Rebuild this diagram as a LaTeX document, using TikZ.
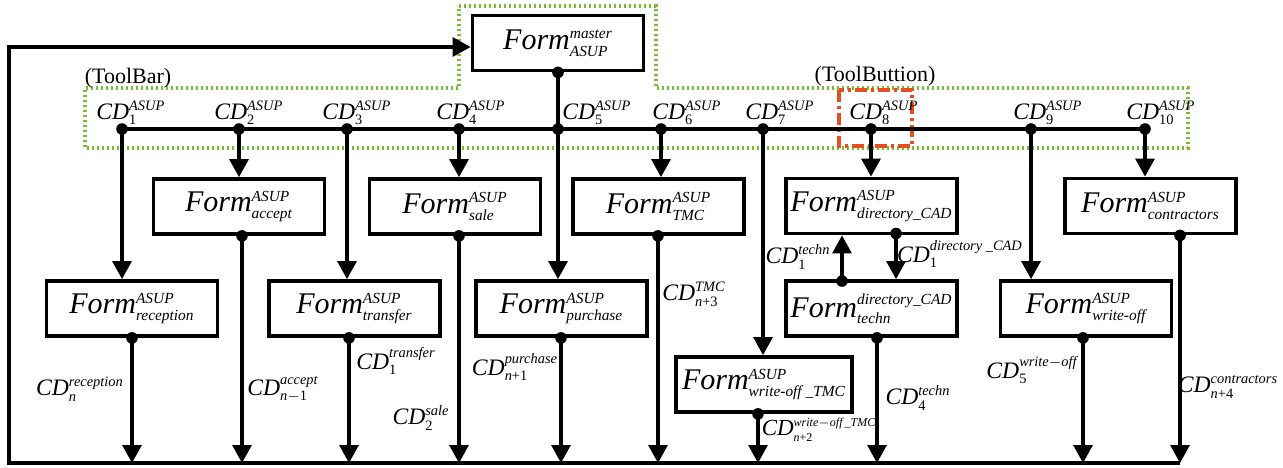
\documentclass[tikz,border=0pt]{standalone}
\usepackage{amsmath}
\usepackage{fontspec}
\setmainfont{Liberation Serif}
\usetikzlibrary{arrows.meta,calc}
\DeclareMathSizes{15}{15}{7.7}{6}
\DeclareMathSizes{11.8}{11.8}{7.2}{5}
\DeclareMathSizes{11.5}{11.5}{6}{5}
\definecolor{tbgreen}{RGB}{118,190,48}
\definecolor{tbred}{RGB}{228,78,32}
\newcommand\fm[2]{\textit{Form}$^{\text{\itshape #1}}_{\text{\itshape #2}}$}
\newcommand\cdl[2]{\textit{CD}$^{\text{\itshape #1}}_{\text{\itshape #2}}$}
\tikzset{
  box/.style={draw, line width=1.9pt, minimum width=85.5pt, minimum height=27.5pt, inner sep=0pt, font=\fontsize{15}{17}\selectfont},
  lbl/.style={inner sep=0pt, font=\fontsize{11.8}{13}\selectfont},
  lblsmall/.style={inner sep=0pt, font=\fontsize{11.5}{13}\selectfont},
  plain/.style={inner sep=0pt, font=\fontsize{11}{13}\selectfont},
  conn/.style={line width=1.6pt},
  arr/.style={conn, -{Triangle[width=9.5pt,length=9pt]}},
  dotted green/.style={draw=tbgreen, line width=1.6pt, dash pattern=on 1.2pt off 1.3pt},
  redbox/.style={draw=tbred, line width=1.6pt, dash pattern=on 6pt off 2pt on 1.5pt off 2pt}
}
\newcommand\jdot[1]{\fill (#1) circle[radius=2.9pt];}
\begin{document}
\begin{tikzpicture}[x=0.5pt,y=-0.5pt]
\useasboundingbox (0,0) rectangle (1283,467);

% toolbar outline
\draw[dotted green] (459,6) -- (656,6) -- (656,88) -- (1188,88) -- (1188,148) -- (85,148) -- (85,88) -- (459,88) -- cycle;
\node[plain] (tbar) at (128,78) {(ToolBar)};
\node[plain] (tbtn) at (875,76) {(ToolButtion)};
\draw[redbox] (839,90) rectangle (912,146);

% boxes
\node[box] (master) at (558,43) {\fm{master}{ASUP}};
\node[box] (accept) at (239,206.5) {\fm{ASUP}{accept}};
\node[box] (sale) at (455,206.5) {\fm{ASUP}{sale}};
\node[box] (tmc) at (658.5,206.5) {\fm{ASUP}{TMC}};
\node[box] (dircad) at (871.5,206) {\fm{ASUP}{directory\_CAD}};
\node[box] (contr) at (1150.5,206) {\fm{ASUP}{contractors}};
\node[box] (recep) at (132,308.5) {\fm{ASUP}{reception}};
\node[box] (transf) at (354.5,308.5) {\fm{ASUP}{transfer}};
\node[box] (purch) at (561.5,308.5) {\fm{ASUP}{purchase}};
\node[box] (techn) at (871.5,308.5) {\fm{directory\_CAD}{techn}};
\node[box] (wroff) at (1086,308.5) {\fm{ASUP}{write-off}};
\node[box, minimum width=88pt] (wrtmc) at (764,384.5) {\fm{ASUP}{write-off \_TMC}};

% bus coordinates
\coordinate (cd1) at (122,129);
\coordinate (cd2) at (239,129);
\coordinate (cd3) at (347,129);
\coordinate (cd4) at (459,129);
\coordinate (cd5) at (558,129);
\coordinate (cd6) at (661,129);
\coordinate (cd7) at (763,129);
\coordinate (cd8) at (871,129);
\coordinate (cd9) at (1031,129);
\coordinate (cd10) at (1145,129);
\draw[conn] (cd1) -- (cd10);

% bus labels
\node[lbl, anchor=base west] (l1) at (96,119) {\cdl{ASUP}{\textup{1}}};
\node[lbl, anchor=base west] (l2) at (214,119) {\cdl{ASUP}{\textup{2}}};
\node[lbl, anchor=base west] (l3) at (322,119) {\cdl{ASUP}{\textup{3}}};
\node[lbl, anchor=base west] (l4) at (436,119) {\cdl{ASUP}{\textup{4}}};
\node[lbl, anchor=base west] (l5) at (562,119) {\cdl{ASUP}{\textup{5}}};
\node[lbl, anchor=base west] (l6) at (652,119) {\cdl{ASUP}{\textup{6}}};
\node[lbl, anchor=base west] (l7) at (745,119) {\cdl{ASUP}{\textup{7}}};
\node[lbl, anchor=base west] (l8) at (849,119) {\cdl{ASUP}{\textup{8}}};
\node[lbl, anchor=base west] (l9) at (1013,119) {\cdl{ASUP}{\textup{9}}};
\node[lbl, anchor=base west] (l10) at (1126,119) {\cdl{ASUP}{\textup{10}}};

% bus to forms
\draw[conn] (master.south) -- (cd5);
\draw[arr] (cd5) -- (cd5 |- purch.north);
\draw[arr] (cd1) -- (cd1 |- recep.north);
\draw[arr] (cd2) -- (cd2 |- accept.north);
\draw[arr] (cd3) -- (cd3 |- transf.north);
\draw[arr] (cd4) -- (cd4 |- sale.north);
\draw[arr] (cd6) -- (cd6 |- tmc.north);
\draw[arr] (cd7) -- (cd7 |- wrtmc.north);
\draw[arr] (cd8) -- (cd8 |- dircad.north);
\draw[arr] (cd9) -- (cd9 |- wroff.north);
\draw[arr] (cd10) -- (cd10 |- contr.north);
\foreach \c in {cd1,cd2,cd3,cd4,cd5,cd6,cd7,cd8,cd9,cd10} {\jdot{\c}}
\jdot{master.south}

% directory_CAD <-> techn
\coordinate (dn) at (896,233.5);
\coordinate (up) at (842,281);
\draw[arr] (dn) -- (dn |- techn.north);
\draw[arr] (up) -- (up |- dircad.south);
\jdot{dn}
\jdot{up}
\node[lbl] (lt1) at (798,257) {\cdl{techn}{\textup{1}}};
\node[lbl] (ld1) at (960,254) {\cdl{directory \_CAD}{\textup{1}}};

% bottom collectors
\coordinate (bRec) at (132,463);
\coordinate (bAcc) at (242,463);
\coordinate (bTra) at (349,463);
\coordinate (bSal) at (459,463);
\coordinate (bPur) at (561,463);
\coordinate (bTmc) at (658,463);
\coordinate (bWtm) at (758,463);
\coordinate (bTec) at (877,463);
\coordinate (bWro) at (1083,463);
\coordinate (bCon) at (1180,463);
\draw[arr] (recep.south -| bRec) -- (bRec);
\draw[arr] (accept.south -| bAcc) -- (bAcc);
\draw[arr] (transf.south -| bTra) -- (bTra);
\draw[arr] (sale.south -| bSal) -- (bSal);
\draw[arr] (purch.south -| bPur) -- (bPur);
\draw[arr] (tmc.south -| bTmc) -- (bTmc);
\draw[arr] (wrtmc.south -| bWtm) -- (bWtm);
\draw[arr] (techn.south -| bTec) -- (bTec);
\draw[arr] (wroff.south -| bWro) -- (bWro);
\draw[arr] (contr.south -| bCon) -- (bCon);
\jdot{recep.south -| bRec}
\jdot{accept.south -| bAcc}
\jdot{transf.south -| bTra}
\jdot{sale.south -| bSal}
\jdot{purch.south -| bPur}
\jdot{tmc.south -| bTmc}
\jdot{wrtmc.south -| bWtm}
\jdot{techn.south -| bTec}
\jdot{wroff.south -| bWro}
\jdot{contr.south -| bCon}

% feedback loop
\coordinate (loopBL) at (9,463);
\coordinate (loopTL) at (9,47);
\draw[arr] (bCon) -- (loopBL) -- (loopTL) -- (master.west |- loopTL);

% lower labels
\node[lbl] (lrec) at (80,389) {\cdl{reception}{n}};
\node[lbl] (lacc) at (283,389) {\cdl{accept}{n\textup{$-$1}}};
\node[lbl] (ltra) at (396,361) {\cdl{transfer}{\textup{1}}};
\node[lbl] (lsal) at (421,418) {\cdl{sale}{\textup{2}}};
\node[lbl] (lpur) at (515,367) {\cdl{purchase}{n\textup{+1}}};
\node[lbl] (ltmc) at (694,294) {\cdl{TMC}{n\textup{+3}}};
\node[lblsmall] (lwtm) at (819,430) {\cdl{write$-$off\,\_TMC}{n\textup{+2}}};
\node[lbl] (ltec) at (918,398) {\cdl{techn}{\textup{4}}};
\node[lbl] (lwro) at (1032,370) {\cdl{write$-$off}{\textup{5}}};
\node[lbl] (lcon) at (1228,387) {\cdl{contractors}{n\textup{+4}}};
\end{tikzpicture}
\end{document}
